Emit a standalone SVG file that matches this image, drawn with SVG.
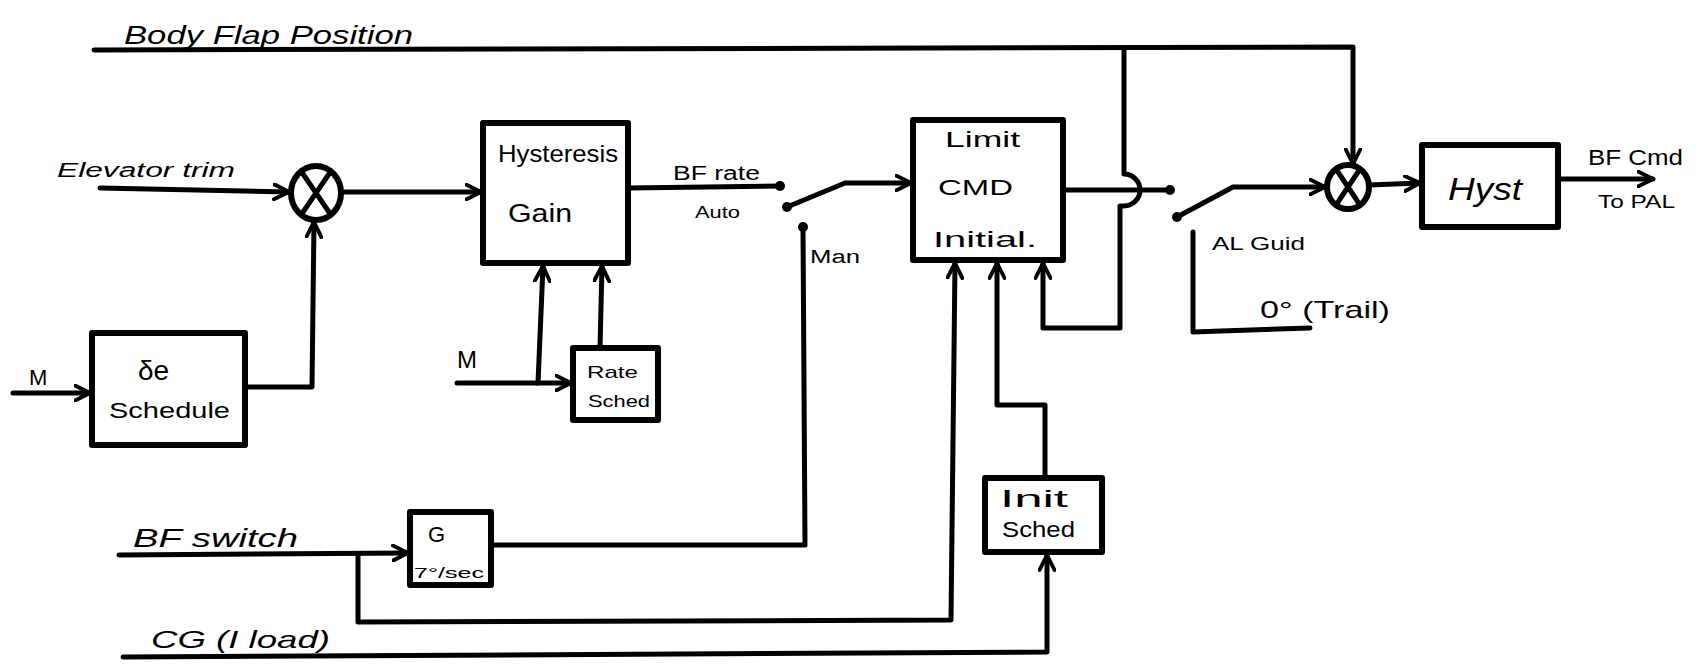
<svg xmlns="http://www.w3.org/2000/svg" width="1700" height="671" viewBox="0 0 1700 671">
<style>
.ln{stroke:#000;stroke-width:5;fill:none;stroke-linecap:round;stroke-linejoin:round}
.box{fill:#fff;stroke:#000;stroke-width:6;stroke-linejoin:round}
.t{font-family:"Liberation Sans",Arial,sans-serif;fill:#000}
.i{font-style:italic}
.dot{fill:#000}
</style>
<defs>
<marker id="arr" viewBox="0 0 12 12" refX="11" refY="6" markerWidth="18" markerHeight="18" markerUnits="userSpaceOnUse" orient="auto">
<path d="M1,1 L11,6 L1,11" fill="none" stroke="#000" stroke-width="2.6" stroke-linecap="round" stroke-linejoin="round"/>
</marker>
</defs>
<rect width="1700" height="671" fill="#fff"/>

<g id="connectors">
<path class="ln" d="M94,50 L1353,47 L1353,164" marker-end="url(#arr)"/>
<path class="ln" d="M1124,48 L1124,174 A16,16 0 0 1 1124,206 L1120,206 L1120,328 L1043,328 L1043,263" marker-end="url(#arr)"/>
<path class="ln" d="M100,188 L289,192" marker-end="url(#arr)"/>
<path class="ln" d="M341,192 L481,192" marker-end="url(#arr)"/>
<path class="ln" d="M13,393 L90,393" marker-end="url(#arr)"/>
<path class="ln" d="M245,387 L312,387 L314,222" marker-end="url(#arr)"/>
<path class="ln" d="M628,188 L780,186"/>
<circle class="dot" cx="780" cy="186" r="5"/>
<path class="ln" d="M787,207 L845,183 L911,183" marker-end="url(#arr)"/>
<circle class="dot" cx="787" cy="207" r="5"/>
<path class="ln" d="M491,545 L805,545 L803,227"/>
<circle class="dot" cx="803" cy="227" r="5"/>
<path class="ln" d="M119,555 L408,553" marker-end="url(#arr)"/>
<path class="ln" d="M358,555 L358,622 L951,620 L955,263" marker-end="url(#arr)"/>
<path class="ln" d="M1045,477 L1045,405 L997,405 L997,263" marker-end="url(#arr)"/>
<path class="ln" d="M123,657 L1047,652 L1047,555" marker-end="url(#arr)"/>
<path class="ln" d="M457,383 L571,383" marker-end="url(#arr)"/>
<path class="ln" d="M538,383 L543,266" marker-end="url(#arr)"/>
<path class="ln" d="M600,348 L602,266" marker-end="url(#arr)"/>
<path class="ln" d="M1063,190 L1170,190"/>
<circle class="dot" cx="1170" cy="190" r="5"/>
<path class="ln" d="M1177,217 L1233,187 L1325,187" marker-end="url(#arr)"/>
<circle class="dot" cx="1177" cy="217" r="5"/>
<path class="ln" d="M1193,232 L1193,332 L1310,328"/>
<path class="ln" d="M1369,185 L1420,183" marker-end="url(#arr)"/>
<path class="ln" d="M1558,179 L1653,179" marker-end="url(#arr)"/>
</g>

<g id="labels">
<text class="t i" x="124" y="44" font-size="26" textLength="289" lengthAdjust="spacingAndGlyphs">Body Flap Position</text>
<text class="t i" x="57" y="177" font-size="20" textLength="178" lengthAdjust="spacingAndGlyphs">Elevator trim</text>
<text class="t" x="29" y="385" font-size="22">M</text>
<text class="t" x="457" y="368" font-size="24">M</text>
<text class="t" x="673" y="180" font-size="20" textLength="87" lengthAdjust="spacingAndGlyphs">BF rate</text>
<text class="t" x="695" y="218" font-size="16" textLength="45" lengthAdjust="spacingAndGlyphs">Auto</text>
<text class="t" x="810" y="263" font-size="18" textLength="50" lengthAdjust="spacingAndGlyphs">Man</text>
<text class="t i" x="133" y="547" font-size="26" textLength="165" lengthAdjust="spacingAndGlyphs">BF switch</text>
<text class="t i" x="151" y="648" font-size="24" textLength="179" lengthAdjust="spacingAndGlyphs">CG (I load)</text>
<text class="t" x="1212" y="250" font-size="18" textLength="93" lengthAdjust="spacingAndGlyphs">AL Guid</text>
<text class="t" x="1260" y="318" font-size="24" textLength="130" lengthAdjust="spacingAndGlyphs">0° (Trail)</text>
<text class="t" x="1588" y="165" font-size="22" textLength="95" lengthAdjust="spacingAndGlyphs">BF Cmd</text>
<text class="t" x="1598" y="208" font-size="18" textLength="77" lengthAdjust="spacingAndGlyphs">To PAL</text>
</g>

<g id="sum1">
<ellipse class="box" cx="316" cy="193" rx="25" ry="27"/>
<path class="ln" d="M301,171 L331,215 M331,171 L301,215"/>
</g>

<g id="sum2">
<ellipse class="box" cx="1348" cy="187" rx="21" ry="22"/>
<path class="ln" d="M1336,169 L1360,205 M1360,169 L1336,205"/>
</g>

<g id="de-schedule">
<rect class="box" x="92" y="333" width="153" height="112"/>
<text class="t" x="138" y="380" font-size="28">δe</text>
<text class="t" x="109" y="418" font-size="22" textLength="121" lengthAdjust="spacingAndGlyphs">Schedule</text>
</g>

<g id="hysteresis-gain">
<rect class="box" x="483" y="123" width="145" height="140"/>
<text class="t" x="498" y="162" font-size="24" textLength="120" lengthAdjust="spacingAndGlyphs">Hysteresis</text>
<text class="t" x="508" y="222" font-size="26" textLength="64" lengthAdjust="spacingAndGlyphs">Gain</text>
</g>

<g id="rate-sched">
<rect class="box" x="573" y="348" width="85" height="72"/>
<text class="t" x="587" y="378" font-size="17" textLength="51" lengthAdjust="spacingAndGlyphs">Rate</text>
<text class="t" x="588" y="407" font-size="17" textLength="62" lengthAdjust="spacingAndGlyphs">Sched</text>
</g>

<g id="g-rate">
<rect class="box" x="410" y="512" width="81" height="73"/>
<text class="t" x="428" y="542" font-size="22">G</text>
<text class="t" x="414" y="578" font-size="15" textLength="70" lengthAdjust="spacingAndGlyphs">7°/sec</text>
</g>

<g id="limit-cmd">
<rect class="box" x="913" y="120" width="150" height="140"/>
<text class="t" x="945" y="147" font-size="22" textLength="75" lengthAdjust="spacingAndGlyphs">Limit</text>
<text class="t" x="938" y="195" font-size="22" textLength="75" lengthAdjust="spacingAndGlyphs">CMD</text>
<text class="t" x="933" y="247" font-size="22" textLength="104" lengthAdjust="spacingAndGlyphs">Initial.</text>
</g>

<g id="init-sched">
<rect class="box" x="985" y="478" width="117" height="74"/>
<text class="t" x="1000" y="507" font-size="24" textLength="68" lengthAdjust="spacingAndGlyphs">Init</text>
<text class="t" x="1002" y="537" font-size="22" textLength="73" lengthAdjust="spacingAndGlyphs">Sched</text>
</g>

<g id="hyst">
<rect class="box" x="1422" y="145" width="136" height="82"/>
<text class="t i" x="1448" y="200" font-size="32" textLength="74" lengthAdjust="spacingAndGlyphs">Hyst</text>
</g>
</svg>
